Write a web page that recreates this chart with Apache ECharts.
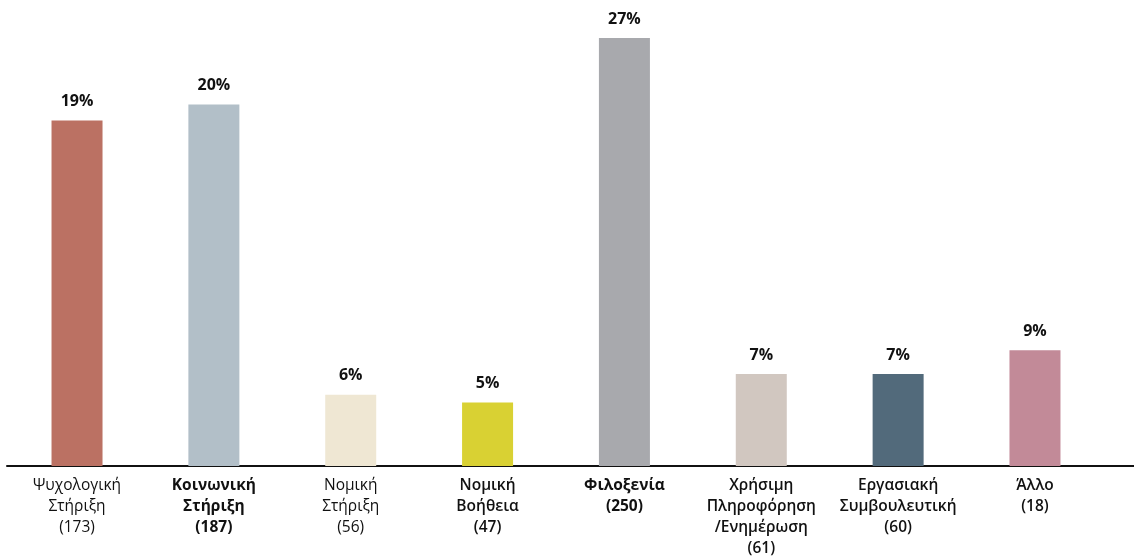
<!DOCTYPE html>
<html><head><meta charset="utf-8">
<script src="https://cdn.jsdelivr.net/npm/echarts@6/dist/echarts.min.js"></script>
<style>html,body{margin:0;padding:0;background:#fff}#c{width:1134px;height:558px}</style>
</head><body><div id="c"></div>
<script>
const categories = [
  'Ψυχολογική\nΣτήριξη\n(173)',
  'Κοινωνική\nΣτήριξη\n(187)',
  'Νομική\nΣτήριξη\n(56)',
  'Νομική\nΒοήθεια\n(47)',
  'Φιλοξενία\n(250)',
  'Χρήσιμη\nΠληροφόρηση\n/Ενημέρωση\n(61)',
  'Εργασιακή\nΣυμβουλευτική\n(60)',
  'Άλλο\n(18)'
];
const labelWeights = ['n', 'b', 'n', 'm', 'b', 'm', 'm', 'm'];
const barValues = [21.8, 22.8, 4.5, 4.0, 27, 5.8, 5.8, 7.3];
const percentLabels = ['19%', '20%', '6%', '5%', '27%', '7%', '7%', '9%'];
const barColors = ['#BB7163', '#B2BFC8', '#EFE7D3', '#D9D133', '#A8A9AD', '#D1C7C0', '#526A7B', '#C28A98'];

const FONT = '"Open Sans", "Noto Sans", sans-serif';
const chart = echarts.init(document.getElementById('c'), null, {renderer: 'canvas'});
const baseText = {fontFamily: FONT, fontSize: 15.5, lineHeight: 21, color: '#111'};
chart.setOption({
  animation: false,
  backgroundColor: '#fff',
  grid: [
    {left: 8.6, right: 30.6, top: 38, bottom: 92, containLabel: false},
    {left: 7, right: 0, top: 38, bottom: 92, containLabel: false}
  ],
  xAxis: [
    {
      type: 'category', gridIndex: 0, data: categories,
      axisLine: {show: false}, axisTick: {show: false},
      axisLabel: {
        interval: 0, margin: 9,
        formatter: (v, i) => v.split('\n').map(l => '{' + labelWeights[i] + '|' + l + '}').join('\n'),
        rich: {
          n: Object.assign({}, baseText, {fontWeight: 400}),
          m: Object.assign({}, baseText, {fontWeight: 600}),
          b: Object.assign({}, baseText, {fontWeight: 700})
        }
      }
    },
    {
      type: 'value', gridIndex: 1, min: 0, max: 1,
      axisLine: {show: true, onZero: false, lineStyle: {color: '#111', width: 2}},
      axisTick: {show: false}, axisLabel: {show: false}, splitLine: {show: false}
    }
  ],
  yAxis: [
    {type: 'value', gridIndex: 0, min: 0, max: 27, show: false, splitLine: {show: false}},
    {type: 'value', gridIndex: 1, min: 0, max: 1, show: false, splitLine: {show: false}}
  ],
  series: [{
    type: 'bar', xAxisIndex: 0, yAxisIndex: 0,
    barWidth: 51,
    data: barValues.map((v, i) => ({value: v, itemStyle: {color: barColors[i]}})),
    label: {
      show: true, position: 'top', distance: 11,
      formatter: p => percentLabels[p.dataIndex],
      fontFamily: FONT, fontSize: 16, fontWeight: 700, color: '#111'
    }
  }]
});
</script>
</body></html>
